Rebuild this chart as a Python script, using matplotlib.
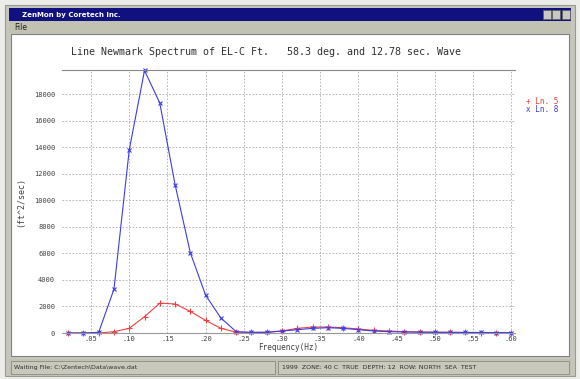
import numpy as np
import matplotlib.pyplot as plt
from matplotlib.patches import Rectangle

# spectrum data
freq = [0.02 * i for i in range(1, 31)]
ln8 = [0, 0, 50, 3300, 13800, 19800, 17350, 11200, 6050, 2850,
       1130, 100, 50, 50, 150, 250, 350, 400, 350, 250,
       150, 100, 80, 60, 50, 50, 40, 40, 30, 30]
ln5 = [0, 0, 0, 100, 350, 1230, 2250, 2190, 1630, 950,
       350, 60, 40, 60, 150, 350, 450, 450, 400, 300,
       200, 150, 100, 80, 60, 50, 40, 30, 30, 20]

xticks = [0.05 * k for k in range(1, 13)]
xlabels = ['.05', '.10', '.15', '.20', '.25', '.30', '.35', '.40', '.45', '.50', '.55', '.60']
yticks = list(range(0, 20000, 2000))

title = 'Line Newmark Spectrum of EL-C Ft.   58.3 deg. and 12.78 sec. Wave'
win_title = 'ZenMon by Coretech Inc.'
status_left = r'Waiting File: C:\Zentech\Data\wave.dat'
status_right = '1999  ZONE: 40 C  TRUE  DEPTH: 12  ROW: NORTH  SEA  TEST'

W, H = 580, 379
mono = 'DejaVu Sans Mono'


def fx(px):
    return px / W


def fy(py):
    return 1 - py / H


def box(x0, y0, x1, y1, **kw):
    fig.patches.append(Rectangle((fx(x0), fy(y1)), (x1 - x0) / W, (y1 - y0) / H,
                                 transform=fig.transFigure, zorder=0, **kw))


fig = plt.figure(figsize=(5.8, 3.79), dpi=100)
fig.patch.set_facecolor('#ecece8')

# window chrome
box(5, 5, 575, 376, facecolor='#c6c6bc', edgecolor='#9a9a90', lw=0.8)
box(9, 8, 571, 21, facecolor='#10107e', edgecolor='none')
fig.text(fx(22), fy(14.5), win_title, color='white', fontsize=5, fontweight='bold',
         va='center', family='DejaVu Sans')
for bx in (543, 552, 562):
    box(bx, 10, bx + 8, 19, facecolor='#c8c8c0', edgecolor='#606060', lw=0.5)
box(9, 21, 571, 33, facecolor='#c2c2b2', edgecolor='none')
fig.text(fx(14), fy(27), 'File', fontsize=5.5, va='center', color='#202020')
box(11, 34, 569, 356, facecolor='white', edgecolor='#808080', lw=0.8)
box(9, 359, 571, 375, facecolor='#c2c2b2', edgecolor='none')
box(11, 361, 275, 374, facecolor='#c8c8bc', edgecolor='#808078', lw=0.5)
box(278, 361, 569, 374, facecolor='#c8c8bc', edgecolor='#808078', lw=0.5)
fig.text(fx(14), fy(367.5), status_left, fontsize=4.5, va='center', color='#303030')
fig.text(fx(282), fy(367.5), status_right, fontsize=4.5, va='center', color='#303030')

# plot
ax = fig.add_axes([fx(62), fy(333), (515 - 62) / W, (333 - 70.5) / H])
ax.set_zorder(2)
ax.patch.set_alpha(0)
ax.plot(freq, ln5, color='#f04040', lw=0.8, marker='+', ms=4, mew=0.8, clip_on=False)
ax.plot(freq, ln8, color='#3c3ce6', lw=0.8, marker='x', ms=3, mew=0.8, clip_on=False)
ax.set_xlim(0.012, 0.605)
ax.set_ylim(0, max(ln8))
ax.set_xticks(xticks)
ax.set_xticklabels(xlabels, family=mono, fontsize=5, color='#404040')
ax.set_yticks(yticks)
ax.set_yticklabels([str(v) for v in yticks], family=mono, fontsize=5, color='#404040')
ax.tick_params(axis='x', length=0, pad=2)
ax.tick_params(axis='y', length=0, pad=5)
ax.grid(True, color='#aaaaaa', lw=0.6, ls=(0, (2, 2)))
for s in ('left', 'right'):
    ax.spines[s].set_visible(False)
ax.spines['top'].set_color('#888888')
ax.spines['bottom'].set_color('#999999')
ax.spines['top'].set_linewidth(0.8)
ax.set_xlabel('Frequency(Hz)', family=mono, fontsize=5.5, color='#404040', labelpad=1)
ax.set_ylabel('(ft^2/sec)', family=mono, fontsize=6, color='#404040', labelpad=6)

fig.text(fx(266), fy(52), title, family=mono, fontsize=7.2, ha='center', va='center',
         color='#303030')
fig.text(fx(526), fy(102), '+ Ln. 5', family=mono, fontsize=5.5, color='#f04040', va='center')
fig.text(fx(526), fy(110), 'x Ln. 8', family=mono, fontsize=5.5, color='#3c3ce6', va='center')

fig.savefig('out.png', dpi=100)
